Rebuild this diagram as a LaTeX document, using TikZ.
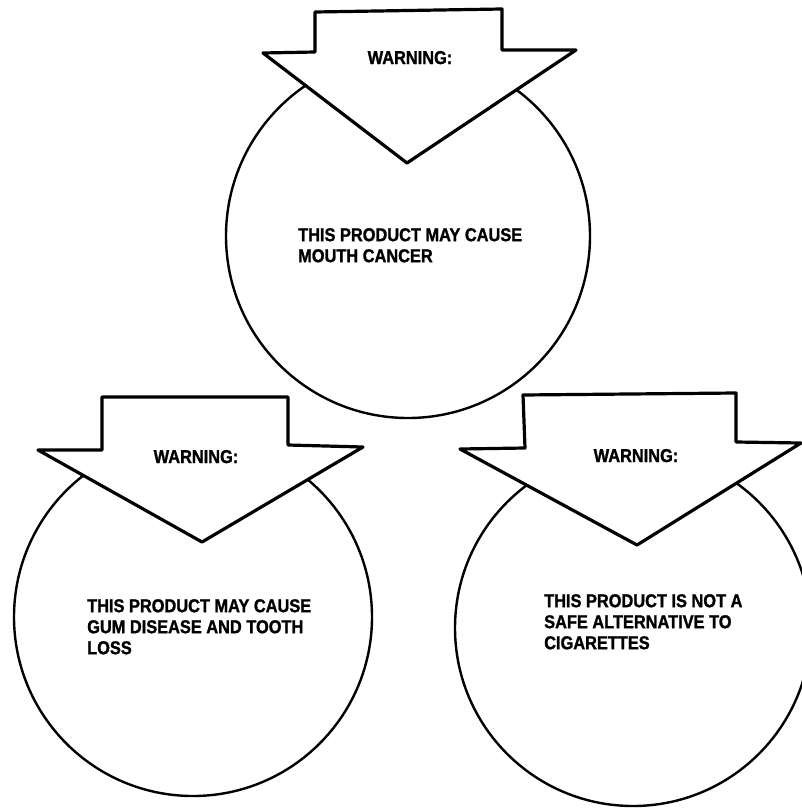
\documentclass[tikz,border=0pt]{standalone}
\usepackage{fontspec}
\newfontfamily\warnfont{Liberation Sans}[FakeStretch=0.88,BoldFeatures={FakeBold=1.3}]
\usepackage{tikz}
\usetikzlibrary{positioning}

\begin{document}
\begin{tikzpicture}[x=1pt,y=-1pt,
  ring/.style={draw, line width=2.4pt},
  warnarrow/.style={draw, fill=white, line width=3.2pt, line join=round},
  warnlabel/.style={font=\warnfont\bfseries\fontsize{18.6}{21}\selectfont, inner sep=0pt, anchor=base},
  bodytext/.style={font=\warnfont\bfseries\fontsize{18.6}{21}\selectfont, align=left, inner sep=0pt, anchor=north west}]
\useasboundingbox (0,0) rectangle (802,808);

% Circles
\draw[ring] (408,236) circle (182);
\draw[ring] (193,617) circle (179);
\draw[ring] (633,628) circle (178);

% Arrows
\draw[warnarrow] (315,52) -- (315,12) -- (502,9) -- (502,50) -- (576,50) -- (407,163) -- (263,53) -- cycle;
\draw[warnarrow] (102,450) -- (102,397) -- (288,397) -- (288,445) -- (363,447) -- (202,542) -- (38,450) -- cycle;
\draw[warnarrow] (525,448) -- (523,395) -- (736,393) -- (736,442) -- (801,443) -- (637,545) -- (460,449) -- cycle;

% Labels
\node[warnlabel] (warnTop) at (410,64) {WARNING:};
\node[warnlabel] (warnLeft) at (196,463) {WARNING:};
\node[warnlabel] (warnRight) at (636,462) {WARNING:};

% Warning texts
\node[bodytext] (textTop) at (298,228) {THIS PRODUCT MAY CAUSE\\MOUTH CANCER};
\node[bodytext] (textLeft) at (87,599) {THIS PRODUCT MAY CAUSE\\GUM DISEASE AND TOOTH\\LOSS};
\node[bodytext] (textRight) at (544,594) {THIS PRODUCT IS NOT A\\SAFE ALTERNATIVE TO\\CIGARETTES};
\end{tikzpicture}
\end{document}
